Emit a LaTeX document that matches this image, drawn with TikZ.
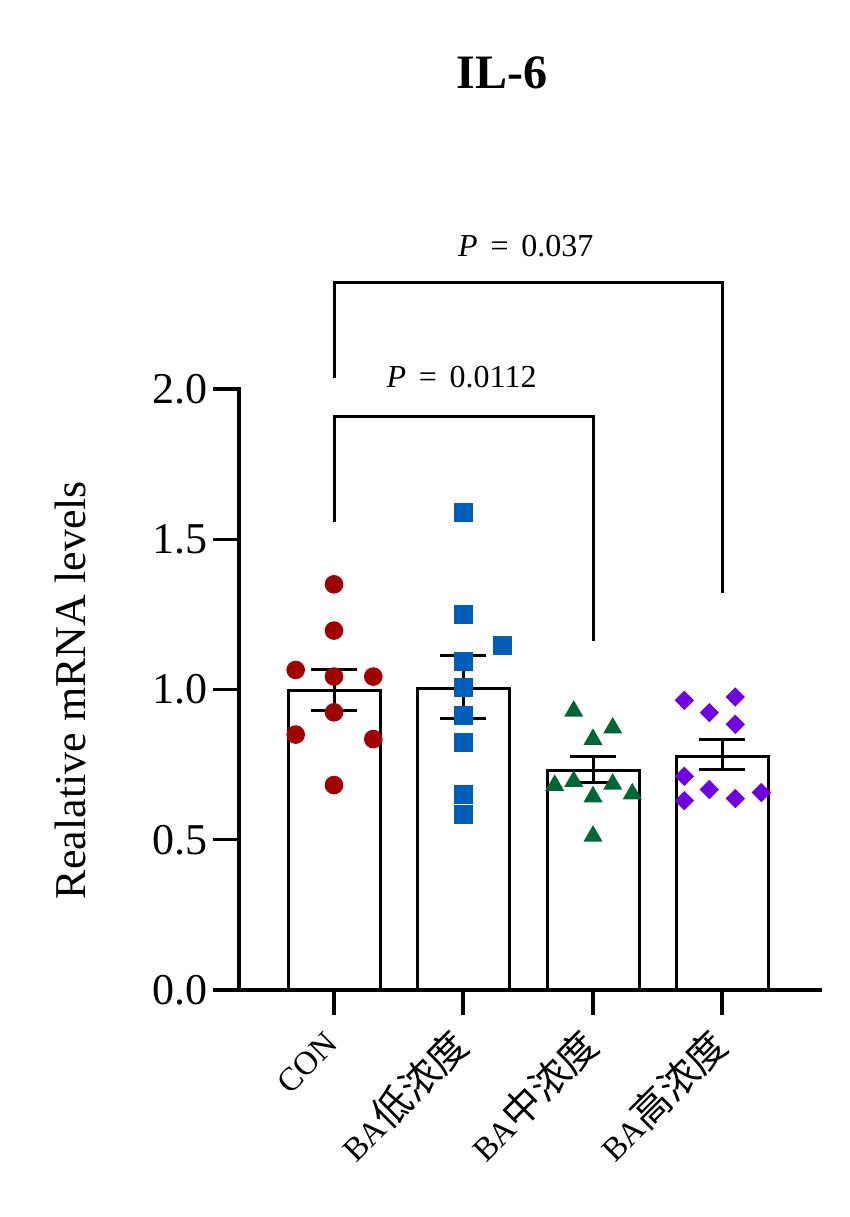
\documentclass[tikz,border=0pt]{standalone}
\usepackage{fontspec}
\setmainfont{Liberation Serif}
\newfontfamily\cjk{Noto Sans CJK SC}[Scale=1.18]
\usetikzlibrary{shapes,positioning}
\definecolor{conred}{HTML}{A00000}
\definecolor{lowblue}{HTML}{005EB8}
\definecolor{midgreen}{HTML}{006633}
\definecolor{highviolet}{HTML}{7000E0}
\tikzset{
	axisline/.style={
		line width=3.3pt,
		line cap=rect
	},
	bar/.style={
		draw,
		line width=3pt,
		fill=white
	},
	errbar/.style={
		line width=3pt
	},
	bracket/.style={
		line width=3pt
	},
	conmark/.style={
		circle,
		fill=conred,
		inner sep=0pt,
		minimum size=18.6pt
	},
	lowmark/.style={
		rectangle,
		fill=lowblue,
		inner sep=0pt,
		minimum size=19pt
	},
	midmark/.style={
		regular polygon,
		regular polygon sides=3,
		fill=midgreen,
		inner sep=0pt,
		minimum size=22pt
	},
	highmark/.style={
		diamond,
		fill=highviolet,
		inner sep=0pt,
		minimum width=19.5pt,
		minimum height=19.5pt
	},
	ticklabel/.style={
		font=\fontsize{44}{44}\selectfont,
		anchor=east,
		inner sep=0pt
	},
	grouplabel/.style={
		font=\fontsize{33}{33}\selectfont,
		rotate=45,
		anchor=east,
		inner sep=0pt
	},
	plabel/.style={
		font=\fontsize{32}{32}\selectfont,
		inner sep=0pt
	},
}

\begin{document}
\begin{tikzpicture}[x=1pt,y=300.5pt]
	\useasboundingbox (-239pt,-227pt) rectangle (611pt,990pt);
	% bars
	\foreach \gx/\h in {95/0.998,224/1.002,354/0.730,483/0.778}
		\draw[bar] (\gx-46,0) rectangle (\gx+46,\h);
	% axes
	\draw[axisline] (0,2) -- (0,0) -- (581,0);
	\foreach \v [count=\i] in {0.0,0.5,1.0,1.5,2.0}{
		\draw[axisline] (-24,\v) -- (0,\v);
		\node[ticklabel] (ytick\i) at (-31,\v) {\v};
	}
	\foreach \gx in {95,224,354,483}
		\draw[axisline] (\gx,0) -- (\gx,-0.0765);
	\node[grouplabel] (lab1) at (93,-0.16) {CON};
	\node[grouplabel] (lab2) at (222,-0.16) {BA{\cjk 低浓度}};
	\node[grouplabel] (lab3) at (352,-0.16) {BA{\cjk 中浓度}};
	\node[grouplabel] (lab4) at (481,-0.16) {BA{\cjk 高浓度}};
	\node[font=\fontsize{44}{44}\selectfont,rotate=90] (ylab) at (-169,0.998) {Realative mRNA levels};
	\node[font=\fontsize{48}{48}\selectfont\bfseries] (title) at (263,3.052) {IL-6};
	% mean +- sem
	\foreach \gx/\lo/\hi in {95/0.931/1.068,224/0.904/1.112,354/0.689/0.776,483/0.735/0.835}
		\draw[errbar] (\gx-23,\lo) -- (\gx+23,\lo) (\gx,\lo) -- (\gx,\hi) (\gx-23,\hi) -- (\gx+23,\hi);
	% points
	\foreach \dx/\v [count=\i] in {95/1.350,95/1.196,56.7/1.065,95/1.043,134.3/1.043,95/0.924,56.7/0.850,134.3/0.835,95/0.682}
		\node[conmark] (con\i) at (\dx,\v) {};
	\foreach \dx/\v [count=\i] in {224.3/1.590,224.3/1.251,263.7/1.147,224.3/1.093,224.3/1.006,224.3/0.915,224.3/0.825,224.3/0.652,224.3/0.585}
		\node[lowmark] (low\i) at (\dx,\v) {};
	\foreach \dx/\v [count=\i] in {334.7/0.928,373.7/0.872,354/0.834,315.7/0.681,334.7/0.694,373.7/0.685,354/0.643,393.3/0.653,354/0.512}
		\node[midmark] (mid\i) at (\dx,\v) {};
	\foreach \dx/\v [count=\i] in {445.3/0.964,496.3/0.975,470.3/0.923,496.3/0.884,445.3/0.711,470.3/0.667,445.3/0.630,496.3/0.637,522.3/0.657}
		\node[highmark] (high\i) at (\dx,\v) {};
	% brackets
	\coordinate (b1l) at (95,1.557);
	\coordinate (b1t) at (0,1.907);
	\coordinate (b1r) at (354,1.161);
	\coordinate (b2l) at (95,2.037);
	\coordinate (b2t) at (0,2.356);
	\coordinate (b2r) at (483,1.321);
	\draw[bracket] (b1l) -- (b1l |- b1t) -- (b1r |- b1t) -- (b1r);
	\draw[bracket] (b2l) -- (b2l |- b2t) -- (b2r |- b2t) -- (b2r);
	\node[plabel] (p1) at (222.5,2.041) {\textit{P}\hspace{.4em}=\hspace{.4em}0.0112};
	\node[plabel] (p2) at (286.8,2.477) {\textit{P}\hspace{.4em}=\hspace{.4em}0.037};
\end{tikzpicture}
\end{document}
